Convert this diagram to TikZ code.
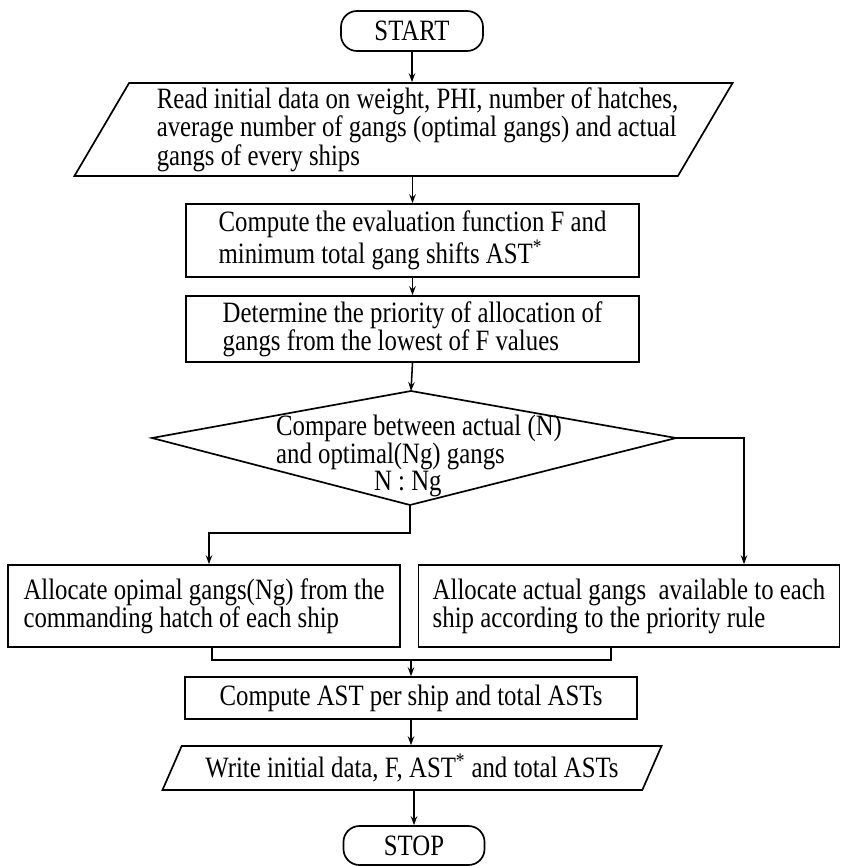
\documentclass[tikz,border=0pt]{standalone}
\usepackage{fontspec}
\setmainfont{Liberation Serif}[FakeStretch=0.84]
\usetikzlibrary{arrows.meta, positioning, calc, shapes.geometric}
\tikzset{
  >={Stealth[length=2.2mm,width=1.6mm]},
  font=\fontsize{21}{20}\selectfont,
  termbox/.style={
    draw, line width=1.2pt, rounded corners=0.4cm,
    minimum width=#1, minimum height=1.0cm, inner sep=0pt
  },
  termbox/.default=3.55cm,
  procbox/.style={
    draw, line width=1.2pt, align=left, inner sep=0pt,
    minimum width=#1
  },
  iobox/.style={
    draw, line width=1.2pt, trapezium, trapezium stretches=true,
    align=left, inner sep=0pt
  },
  flowline/.style={->, line width=1.1pt},
  joinline/.style={line width=1.1pt}
}
\begin{document}
\begin{tikzpicture}[x=0.025cm, y=-0.025cm]
  \useasboundingbox (0,0) rectangle (841,866);
  % pixel grid of the scan: x right, y down
  \node[termbox] (start) at (412,31) {START};
  \node[iobox, trapezium left angle=57, trapezium right angle=123,
        minimum width=16.55cm, minimum height=2.325cm,
        font=\fontsize{21}{17.8}\selectfont] (read) at (403.5,129.5)
    {\hspace*{0.7cm}Read initial data on weight, PHI, number of hatches,\\
     \hspace*{0.7cm}average number of gangs (optimal gangs) and actual\\
     \hspace*{0.7cm}gangs of every ships};
  \node[procbox=11.325cm, minimum height=1.825cm] (eval) at (412.5,240.5)
    {Compute the evaluation function F and\\
     minimum total gang shifts AST\textsuperscript{*}};
  \node[procbox=11.325cm, minimum height=1.65cm] (prio) at (412.5,329)
    {Determine the priority of allocation of\\
     gangs from the lowest of F values};

  \coordinate (cmpT) at (411,391);
  \coordinate (cmpR) at (676,438);
  \coordinate (cmpB) at (410,505);
  \coordinate (cmpL) at (152,438);
  \draw[line width=1.2pt] (cmpT) -- (cmpR) -- (cmpB) -- (cmpL) -- cycle;
  \node[align=left, font=\fontsize{21}{19}\selectfont] (cmp) at (419,456)
    {Compare between actual (N)\\
     and optimal(Ng) gangs\\
     \hspace*{2.45cm}N : Ng};

  \node[procbox=9.8cm, minimum height=2.05cm] (altL) at (204,606)
    {Allocate opimal gangs(Ng) from the\\
     commanding hatch of each ship};
  \node[procbox=10.525cm, minimum height=2.05cm] (altR) at (629,606)
    {Allocate actual gangs\ \ available to each\\
     ship according to the priority rule};
  \node[procbox=11.3cm, minimum height=1.05cm] (total) at (411,698)
    {Compute AST per ship and total ASTs};
  \node[iobox, trapezium left angle=59, trapezium right angle=121,
        minimum width=12.525cm, minimum height=1.1cm] (write) at (412,768)
    {Write initial data, F, AST\textsuperscript{*} and total ASTs};
  \node[termbox=3.525cm, minimum height=0.975cm] (stop) at (414,845.5) {STOP};

  \coordinate (lturn) at (209,533);
  \coordinate (rturn) at (744,438);
  \coordinate (mL) at (212,660);
  \coordinate (mR) at (611,660);

  \draw[flowline] (start.south) -- (start.south |- read.north);
  \draw[flowline] (eval.north |- read.south) -- (eval.north);
  \draw[flowline] (eval.south) -- (prio.north);
  \draw[flowline] (prio.south) -- (cmpT);
  \draw[flowline] (cmpB) |- (lturn) -- (lturn |- altL.north);
  \draw[flowline] (cmpR) -- (rturn) -- (rturn |- altR.north);
  \draw[joinline] (mL |- altL.south) -- (mL) -- (mR) -- (mR |- altR.south);
  \draw[flowline] (total.north |- mL) -- (total.north);
  \draw[flowline] (total.south) -- (total.south |- write.north);
  \draw[flowline] (stop.north |- write.south) -- (stop.north);
\end{tikzpicture}
\end{document}
